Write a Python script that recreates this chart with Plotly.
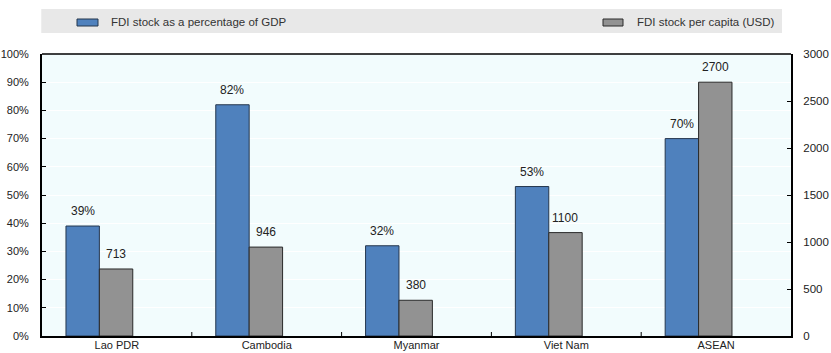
import plotly.graph_objects as go

# Data
countries = ["Lao PDR", "Cambodia", "Myanmar", "Viet Nam", "ASEAN"]
fdi_pct_gdp = [39, 82, 32, 53, 70]           # FDI stock as % of GDP
fdi_per_capita = [713, 946, 380, 1100, 2700]  # FDI stock per capita (USD)
series_names = ["FDI stock as a percentage of GDP", "FDI stock per capita (USD)"]

left_ticks = list(range(0, 101, 10))
left_tick_text = [f"{v}%" for v in left_ticks]
right_ticks = list(range(0, 3001, 500))

FONT = "Liberation Sans, Arial, sans-serif"
FS = 11.5
BLUE = "#4F81BD"
GREY = "#929292"
BAR_W = 0.223
OFF_BLUE, OFF_GREY = -0.34, -0.117

PLOT_W, PLOT_H = 749, 282


def py(px_above_top):
    """Paper y for a point the given number of pixels above the plot top."""
    return 1 + px_above_top / PLOT_H


fig = go.Figure()
fig.add_trace(go.Bar(
    x=countries, y=fdi_pct_gdp, name=series_names[0],
    width=BAR_W, offset=OFF_BLUE,
    marker=dict(color=BLUE, line=dict(color="#24364d", width=1)),
    yaxis="y",
))
fig.add_trace(go.Bar(
    x=countries, y=fdi_per_capita, name=series_names[1],
    width=BAR_W, offset=OFF_GREY,
    marker=dict(color=GREY, line=dict(color="#2a2a2a", width=1)),
    yaxis="y2",
))

# Value labels above each bar
annotations = []
for i, v in enumerate(fdi_pct_gdp):
    annotations.append(dict(
        x=i + OFF_BLUE + BAR_W / 2, y=v, xref="x", yref="y", text=f"{v}%",
        showarrow=False, yanchor="bottom", yshift=6,
        font=dict(family=FONT, size=12, color="#222")))
for i, v in enumerate(fdi_per_capita):
    annotations.append(dict(
        x=i + OFF_GREY + BAR_W / 2, y=v, xref="x", yref="y2", text=str(v),
        showarrow=False, yanchor="bottom", yshift=6,
        font=dict(family=FONT, size=12, color="#222")))

# Legend band drawn as shapes + text
shapes = [
    dict(type="rect", xref="paper", yref="paper", x0=-0.001, x1=740 / PLOT_W,
         y0=py(21), y1=py(45),
         fillcolor="#E8E8E8", line=dict(width=0), layer="below"),
    dict(type="rect", xref="paper", yref="paper", x0=35 / PLOT_W, x1=56 / PLOT_W,
         y0=py(28), y1=py(35),
         fillcolor=BLUE, line=dict(color="#24364d", width=1)),
    dict(type="rect", xref="paper", yref="paper", x0=561 / PLOT_W, x1=581 / PLOT_W,
         y0=py(28), y1=py(35),
         fillcolor=GREY, line=dict(color="#2a2a2a", width=1)),
]
annotations += [
    dict(text=series_names[0], xref="paper", yref="paper", x=67 / PLOT_W,
         y=py(32), xanchor="left", yanchor="middle", showarrow=False,
         font=dict(family=FONT, size=FS, color="#333")),
    dict(text=series_names[1], xref="paper", yref="paper", x=593 / PLOT_W,
         y=py(32), xanchor="left", yanchor="middle", showarrow=False,
         font=dict(family=FONT, size=FS, color="#333")),
]

fig.update_layout(
    width=831, height=353,
    margin=dict(l=42, r=40, t=54, b=17),
    paper_bgcolor="white", plot_bgcolor="#F2FCFD",
    barmode="overlay", showlegend=False,
    font=dict(family=FONT, size=FS, color="#222"),
    shapes=shapes, annotations=annotations,
    xaxis=dict(
        type="category", showline=True, linecolor="black", linewidth=2,
        mirror=False, ticks="", showgrid=False, automargin=False,
        ticklabelstandoff=-2,
        tickfont=dict(family=FONT, size=11, color="#222"),
        range=[-0.5, 4.5],
    ),
    yaxis=dict(
        range=[0, 100], tickvals=left_ticks, ticktext=left_tick_text,
        showline=True, linecolor="black", linewidth=2, mirror=False,
        ticks="inside", ticklen=4, tickcolor="black",
        showgrid=True, gridcolor="#FFFFFF", gridwidth=1,
        zeroline=False, ticklabelstandoff=9, automargin=False,
        tickfont=dict(family=FONT, size=11, color="#222"),
    ),
    yaxis2=dict(
        range=[0, 3000], tickvals=right_ticks, overlaying="y", side="right",
        showline=True, linecolor="black", linewidth=2,
        ticks="inside", ticklen=4, tickcolor="black",
        showgrid=False, zeroline=False, ticklabelstandoff=8, automargin=False,
        tickfont=dict(family=FONT, size=FS, color="#222"),
    ),
)

# Top frame line and category separator ticks on the baseline
fig.add_shape(type="line", xref="paper", yref="paper", x0=0, x1=1, y0=1, y1=1,
              line=dict(color="black", width=1.5))
for i in range(1, len(countries)):
    fig.add_shape(type="line", xref="x", yref="paper", x0=i - 0.5, x1=i - 0.5,
                  y0=0, y1=4 / PLOT_H, line=dict(color="black", width=1))

fig.write_html("out.html")
